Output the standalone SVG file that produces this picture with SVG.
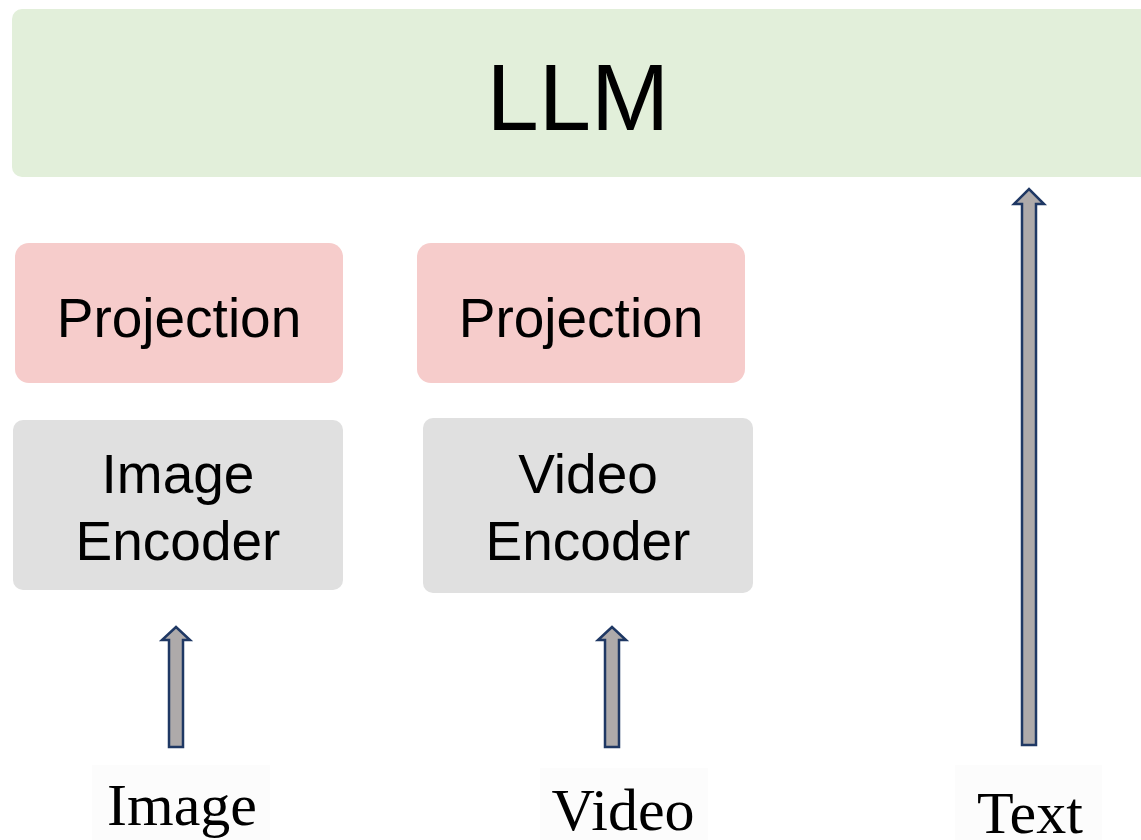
<svg xmlns="http://www.w3.org/2000/svg" width="1141" height="840" viewBox="0 0 1141 840">
  <style>
    .llm { fill: #e2efda; }
    .proj { fill: #f6cccb; }
    .enc { fill: #e0e0e0; }
    .sans { font-family: "Liberation Sans", Arial, sans-serif; fill: #000; text-anchor: middle; }
    .serif { font-family: "Liberation Serif", "Times New Roman", serif; font-size: 60px; fill: #000; text-anchor: middle; }
    .arrow { fill: #aeaaaa; stroke: #1f3864; stroke-width: 2.5; stroke-linejoin: miter; }
    .lblbg { fill: #fcfcfc; }
  </style>
  <rect width="1141" height="840" fill="#ffffff"/>

  <g id="llm">
    <rect class="llm" x="12" y="9" width="1140" height="168" rx="10"/>
    <text class="sans" x="578" y="130" font-size="94">LLM</text>
  </g>

  <g id="projection-image">
    <rect class="proj" x="15" y="243" width="328" height="140" rx="14"/>
    <text class="sans" x="179" y="337" font-size="55">Projection</text>
  </g>

  <g id="projection-video">
    <rect class="proj" x="417" y="243" width="328" height="140" rx="14"/>
    <text class="sans" x="581" y="337" font-size="55">Projection</text>
  </g>

  <g id="image-encoder">
    <rect class="enc" x="13" y="420" width="330" height="170" rx="10"/>
    <text class="sans" x="178" y="493" font-size="55">Image</text>
    <text class="sans" x="178" y="560" font-size="55">Encoder</text>
  </g>

  <g id="video-encoder">
    <rect class="enc" x="423" y="418" width="330" height="175" rx="10"/>
    <text class="sans" x="588" y="493" font-size="55">Video</text>
    <text class="sans" x="588" y="560" font-size="55">Encoder</text>
  </g>

  <g id="input-image">
    <rect class="lblbg" x="92" y="765" width="178" height="75"/>
    <text class="serif" x="182" y="825">Image</text>
  </g>

  <g id="input-video">
    <rect class="lblbg" x="540" y="768" width="168" height="72"/>
    <text class="serif" x="623" y="830">Video</text>
  </g>

  <g id="input-text">
    <rect class="lblbg" x="955" y="765" width="147" height="75"/>
    <text class="serif" x="1030" y="833">Text</text>
  </g>

  <g id="connectors">
    <!-- block arrows pointing up into the encoders and the LLM -->
    <path class="arrow" d="M169,747 L169,640 L162,640 L176,627 L190,640 L183,640 L183,747 Z"/>
    <path class="arrow" d="M605,747 L605,640 L598,640 L612,627 L626,640 L619,640 L619,747 Z"/>
    <path class="arrow" d="M1022,745 L1022,204 L1014,204 L1029,189 L1044,204 L1036,204 L1036,745 Z"/>
  </g>
</svg>
